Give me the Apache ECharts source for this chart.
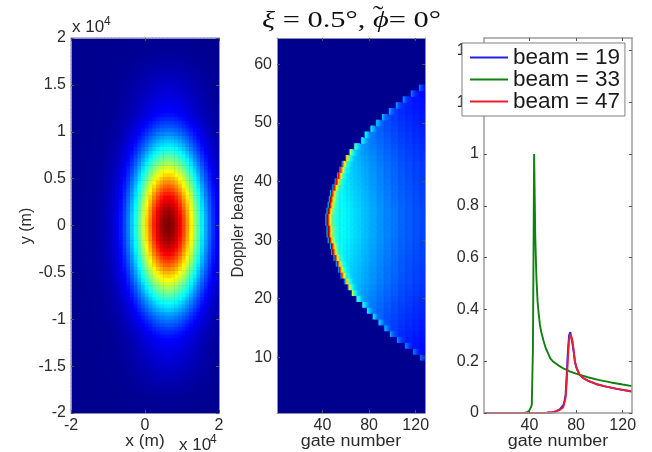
<!DOCTYPE html>
<html><head><meta charset="utf-8">
<script src="https://cdn.jsdelivr.net/npm/echarts@6/dist/echarts.min.js"></script>
<style>html,body{margin:0;padding:0;background:#fff}#c{width:652px;height:452px}</style>
</head><body><div id="c"></div>
<script>
// ---- tick labels ----
const leftXTicks = [-2, 0, 2];
const leftYTicks = [-2, -1.5, -1, -0.5, 0, 0.5, 1, 1.5, 2];
const gateTicks = [40, 80, 120];
const beamTicks = [10, 20, 30, 40, 50, 60];
const powerTicks = [0, 0.2, 0.4, 0.6, 0.8, 1, 1.2, 1.4];

// ---- left map: colour read along the row and column through the peak ----
const spotAcrossX = [.0004,.0007,.0012,.0021,.0035,.0059,.0095,.015,.023,.035,.051,.074,.104,.143,.191,.25,.32,.40,.486,.577,.67,.76,.843,.911,.962,.992,1,.983,.944,.886,.811,.726,.636,.54,.45,.364,.29,.226,.17,.126];
const spotAcrossYHalf = [.9994,.995,.986,.973,.956,.934,.91,.881,.85,.817,.781,.743,.705,.664,.624,.584,.543,.503,.464,.426,.39,.355,.322,.29,.26,.233,.207,.184,.162,.142,.126,.118,.108,.098,.09,.082,.074,.067,.06,.053,.046,.039,.032,.025,.019,.014,.01,.007,.005,.004];

// ---- middle map: first lit gate of beams 10..56, edge colour and far colour ----
const firstBeam = 10;
const peakBeam = 33;
const onsetGate = [125,119,112,105,99,94,89,84,79,75,70,66,63,60,57,55,53,51,49,48,46,45,45,44,44,45,46,47,48,50,52,54,56,58,61,64,68,74,77,82,87,92,98,104,110,117,124];
const edgeByBeamOffset = [1,1,1,1,.98,.96,.94,.92,.88,.83,.76,.66,.56,.47,.42,.39,.36,.34,.31,.29,.27,.26,.25,.24];
const gainByBeamOffset = [1,1,1,.99,.98,.97,.96,.95,.94,.93,.92,.9,.88,.86,.84,.82,.8,.78,.76,.74,.72,.7,.68,.66];
const edgeFalloff = [1,.75,.5,.3,.17,.1,.06,.03,.015];
const preEdge = .3;
const bandStartGate = 40;
const bandWidth = 6;
const farBands = [.42,.41,.39,.37,.35,.33,.31,.29,.27,.255,.24,.225,.215,.205,.195];

// ---- right panel lines ----
const blueGates = [1,50,55,60,63,66,69,70,71,72,73,74,75,76,77,78,79,80,81,83,86,90,97,105,115,128];
const blueValues = [0,0,.001,.003,.007,.014,.03,.045,.07,.15,.24,.3,.312,.29,.265,.235,.2,.18,.168,.148,.135,.125,.112,.103,.093,.083];
const greenGates = [1,30,36,38,40,41,42,43,44,45,46,47,48,49,50,52,54,56,58,60,65,70,75,80,85,90,100,110,120,128];
const greenValues = [0,0,.001,.003,.01,.016,.03,.25,1,.68,.52,.43,.38,.34,.315,.28,.25,.23,.21,.2,.183,.17,.16,.152,.145,.138,.127,.118,.11,.104];
const redGates = [1,50,55,60,63,66,69,71,72,73,74,75,76,77,78,79,80,81,83,86,90,97,105,115,128];
const redValues = [0,0,.001,.003,.006,.012,.022,.058,.12,.21,.28,.303,.295,.277,.24,.2,.18,.168,.148,.135,.125,.112,.103,.093,.083];
const legendNames = ['beam = 19', 'beam = 33', 'beam = 47'];

// ---- tables for the library ----
const spotAcrossY = spotAcrossYHalf.slice().reverse().concat(spotAcrossYHalf);
const spotCells = [];
spotAcrossY.forEach((vy, r) => spotAcrossX.forEach((vx, c) => spotCells.push([c, r, vx * vy])));
const beamCells = [];
onsetGate.forEach((on, i) => {
  const beam = firstBeam + i, k = Math.abs(beam - peakBeam);
  const far = g => gainByBeamOffset[k] * farBands[Math.min(farBands.length - 1, Math.floor((g - bandStartGate) / bandWidth))];
  const edge = edgeByBeamOffset[k];
  beamCells.push([on - 2, beam - 1, edge * preEdge]);
  for (let g = on; g <= 128; g++) {
    const fall = edgeFalloff[g - on] || 0;
    beamCells.push([g - 1, beam - 1, far(g) + (edge - far(on)) * fall]);
  }
});
const idx = n => Array.from({length: n}, (_, i) => String(i));
const pairs = (a, b) => a.map((x, i) => [x, b[i]]);

const FONT = '"Liberation Sans", Arial, sans-serif';
const SERIF = '"Liberation Serif", serif';
const TXT = '#2b2b2b';
const rects = [
  {left: 71, top: 38, width: 148, height: 375},
  {left: 277, top: 38, width: 148, height: 375},
  {left: 484, top: 38, width: 148, height: 375}
];
const grids = [
  Object.assign({show: true, backgroundColor: '#00008f', borderWidth: 0, outerBoundsMode: 'none'}, rects[0]),
  Object.assign({show: true, backgroundColor: '#00008f', borderWidth: 0, outerBoundsMode: 'none'}, rects[1]),
  Object.assign({outerBoundsMode: 'none'}, rects[0]),
  Object.assign({outerBoundsMode: 'none'}, rects[1]),
  Object.assign({outerBoundsMode: 'none'}, rects[2])
];
function valAxis(grid, pos, min, max, ticks, labelled, color, w) {
  return {
    type: 'value', gridIndex: grid, position: pos, min, max, z: 5, scale: true,
    splitLine: {show: false},
    axisLine: {show: true, onZero: false, lineStyle: {color, width: w}},
    axisTick: {show: true, inside: true, length: 3, customValues: ticks, lineStyle: {color: '#555', width: 1}},
    axisLabel: {show: labelled, customValues: ticks, margin: 5, color: TXT, fontFamily: FONT, fontSize: 16, hideOverlap: false, showMinLabel: true, showMaxLabel: true}
  };
}
const FRAME = '#8a90a8', FRAME2 = '#9c9c9c';
const xAxes = [
  {type: 'category', gridIndex: 0, data: idx(spotAcrossX.length), show: false},
  {type: 'category', gridIndex: 1, data: idx(128), show: false},
  valAxis(2, 'bottom', -2, 2, leftXTicks, true, FRAME, 1),
  valAxis(2, 'top', -2, 2, leftXTicks, false, FRAME, 1),
  valAxis(3, 'bottom', 1, 128, gateTicks, true, FRAME, 1),
  valAxis(3, 'top', 1, 128, gateTicks, false, FRAME, 1),
  valAxis(4, 'bottom', 1, 128, gateTicks, true, FRAME2, 1.5),
  valAxis(4, 'top', 1, 128, gateTicks, false, FRAME2, 1.5)
];
const yAxes = [
  {type: 'category', gridIndex: 0, data: idx(spotAcrossY.length), show: false},
  {type: 'category', gridIndex: 1, data: idx(64), show: false},
  valAxis(2, 'left', -2, 2, leftYTicks, true, FRAME, 1),
  valAxis(2, 'right', -2, 2, leftYTicks, false, FRAME, 1),
  valAxis(3, 'left', .5, 64.5, beamTicks, true, FRAME, 1),
  valAxis(3, 'right', .5, 64.5, beamTicks, false, FRAME, 1),
  valAxis(4, 'left', 0, 1.448, powerTicks, true, FRAME2, 1.5),
  valAxis(4, 'right', 0, 1.448, powerTicks, false, FRAME2, 1.5)
];
function heat(x, y, data) {
  return {type: 'heatmap', xAxisIndex: x, yAxisIndex: y, data, progressive: 0, silent: true, itemStyle: {borderWidth: 0}, emphasis: {disabled: true}};
}
function line(name, color, gates, values) {
  return {type: 'line', name, xAxisIndex: 6, yAxisIndex: 6, data: pairs(gates, values), showSymbol: false, symbol: 'none', silent: true, z: 3,
          itemStyle: {color}, lineStyle: {color, width: 1.9}};
}
function times(x, y) {
  return {type: 'text', x, y, z: 30, style: {text: 'x 10', fontFamily: FONT, fontSize: 17, fill: TXT, verticalAlign: 'middle'}};
}
function raised(x, y) {
  return {type: 'text', x, y, z: 30, style: {text: '4', fontFamily: FONT, fontSize: 12, fill: TXT, verticalAlign: 'middle'}};
}
function label(text, cx, cy, rot, sx) {
  return {type: 'text', x: cx, y: cy, rotation: rot ? Math.PI / 2 : 0, scaleX: sx || 1, z: 30,
    style: {text, x: 0, y: 0, align: 'center', verticalAlign: 'middle', fontFamily: FONT, fontSize: 16, fill: TXT}};
}
const chart = echarts.init(document.getElementById('c'), null, {renderer: 'canvas'});
chart.setOption({
  animation: false,
  backgroundColor: '#fff',
  grid: grids, xAxis: xAxes, yAxis: yAxes,
  visualMap: {
    show: false, type: 'continuous', min: 0, max: 1, seriesIndex: [0, 1], dimension: 2,
    inRange: {color: ['#00008f', '#0000ff', '#0080ff', '#00ffff', '#80ff80', '#ffff00', '#ff8000', '#ff0000', '#800000']}
  },
  legend: {
    left: 462, top: 43, z: 20, orient: 'vertical', padding: [3, 5, 3, 8], icon: 'rect', itemWidth: 38, itemHeight: 2, itemGap: -1,
    backgroundColor: '#fff', borderColor: '#808080', borderWidth: 1, data: legendNames, selectedMode: false,
    textStyle: {fontFamily: FONT, fontSize: 22.5, lineHeight: 21, color: '#1a1a1a', padding: [0, 0, 0, 0]}
  },
  graphic: [
    {type: 'text', x: 262, y: 21, scaleX: 1.27, z: 30, style: {
      text: '{i|ξ}{r| = 0.5°, }{i|ϕ}{r|= 0°}', verticalAlign: 'middle', fontFamily: SERIF, fontSize: 24,
      rich: {i: {fontFamily: SERIF, fontStyle: 'italic', fontSize: 24, fill: '#111'}, r: {fontFamily: SERIF, fontSize: 24, fill: '#111'}}
    }},
    {type: 'text', x: 373, y: 16, scaleX: 1.3, z: 30, style: {text: '˜', verticalAlign: 'middle', fontFamily: SERIF, fontSize: 24, fill: '#111'}},
    times(72, 27), raised(104, 22), times(179, 445), raised(210, 440),
    label('x (m)', 145, 442, false, 1.08),
    label('y (m)', 27, 226, true, 1),
    label('Doppler beams', 239, 226, true, .95),
    label('gate number', 351, 442, false, 1.12),
    label('gate number', 558, 442, false, 1.12)
  ],
  series: [
    heat(0, 0, spotCells),
    heat(1, 1, beamCells),
    line(legendNames[0], '#2424e0', blueGates, blueValues),
    line(legendNames[1], '#108010', greenGates, greenValues),
    line(legendNames[2], '#ee1c30', redGates, redValues)
  ]
});
</script></body></html>
